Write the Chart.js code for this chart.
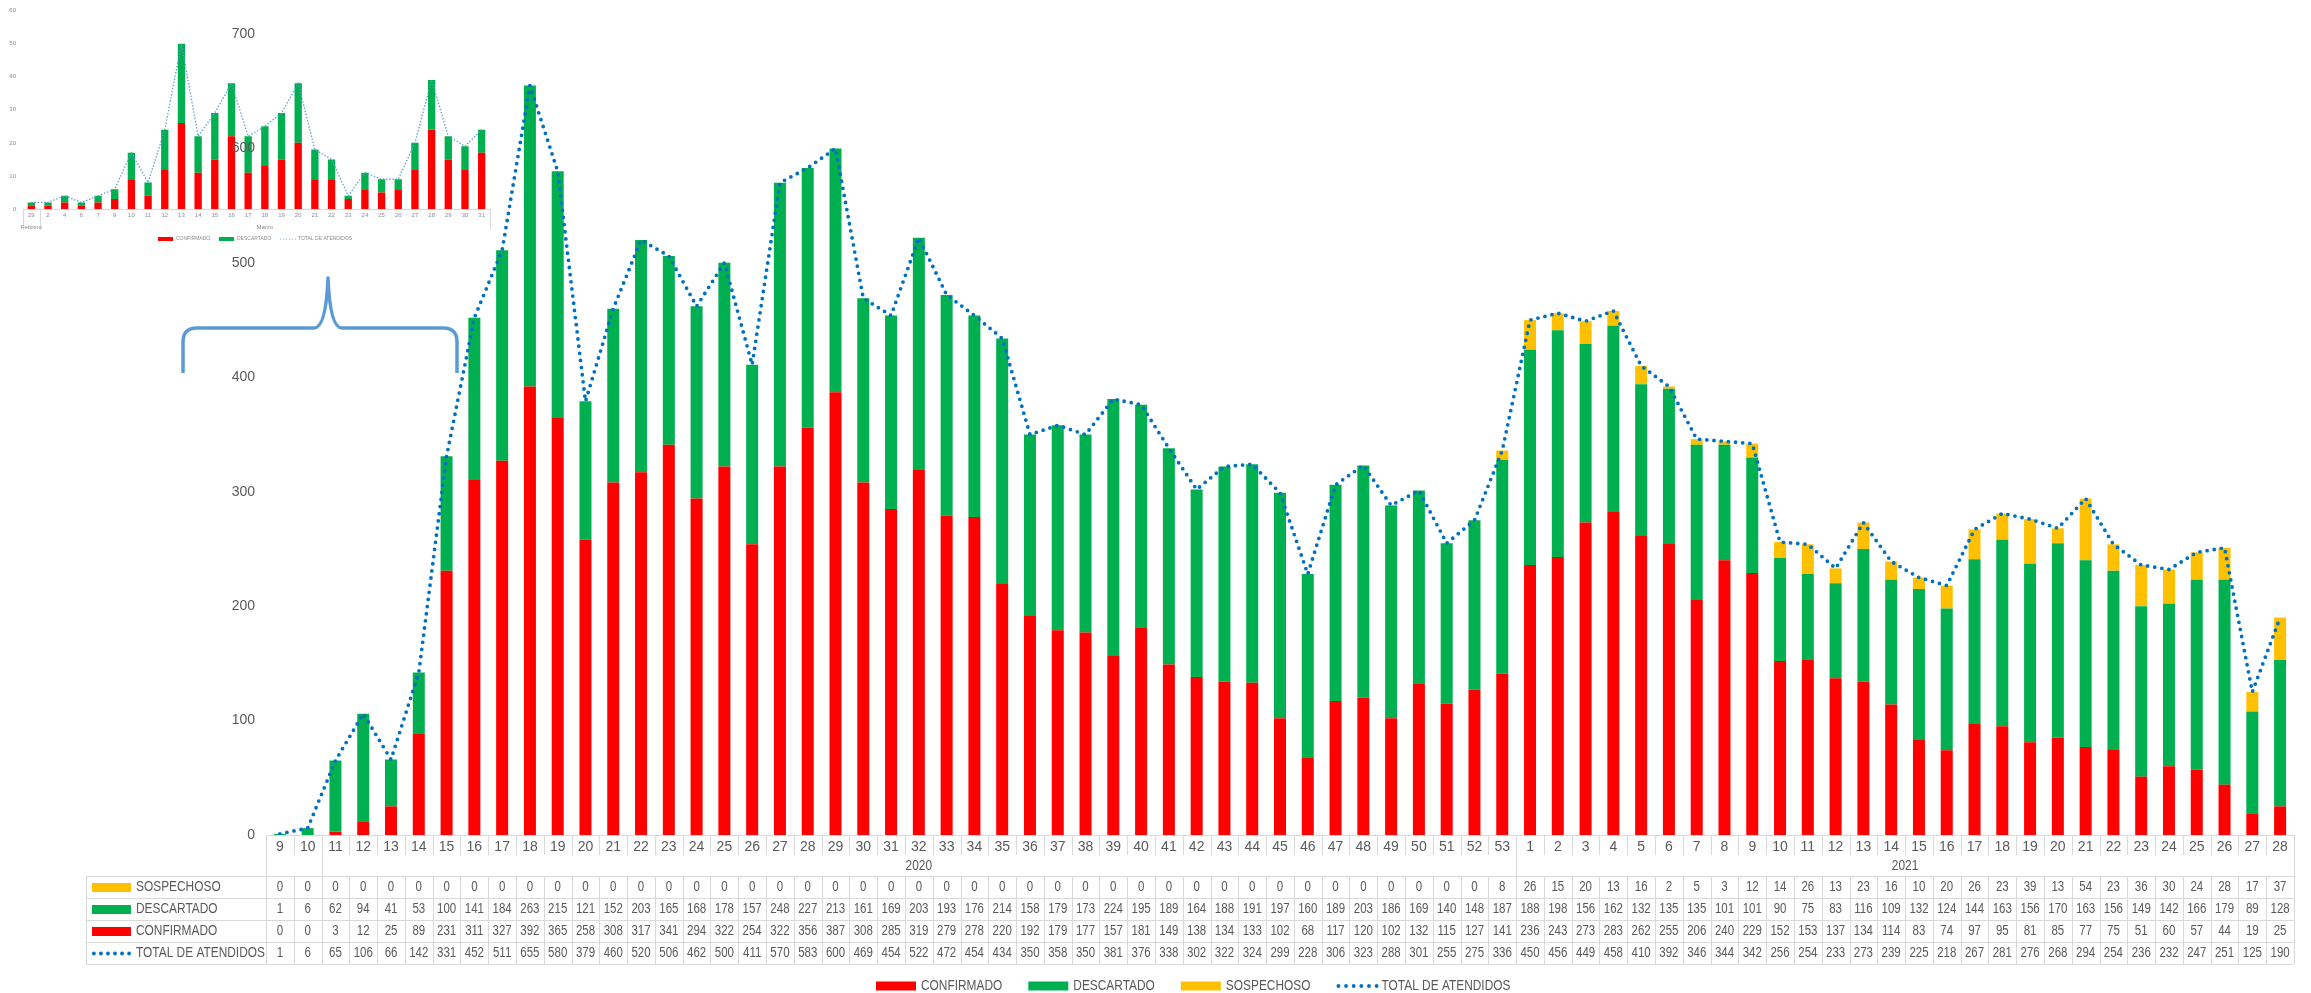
<!DOCTYPE html>
<html><head><meta charset="utf-8">
<script src="https://cdn.jsdelivr.net/npm/chart.js@4.4.1/dist/chart.umd.min.js"></script>
<style>
html,body{margin:0;padding:0;background:#fff;width:2311px;height:993px;overflow:hidden;}
#c2{position:absolute;left:0;top:0;}
#c1{position:absolute;left:0;top:0;}
</style></head><body>
<canvas id="c2" width="495" height="250" style="width:495px;height:250px"></canvas>
<canvas id="c1" width="2311" height="993" style="width:2311px;height:993px"></canvas>
<script>
// ---------- main chart data (epidemiological weeks) ----------
const weeks = ['9','10','11','12','13','14','15','16','17','18','19','20','21','22','23','24','25','26','27','28','29','30','31','32','33','34','35','36','37','38','39','40','41','42','43','44','45','46','47','48','49','50','51','52','53',
  '1','2','3','4','5','6','7','8','9','10','11','12','13','14','15','16','17','18','19','20','21','22','23','24','25','26','27','28'];
const years = [{label:'', from:0, to:2}, {label:'2020', from:2, to:45}, {label:'2021', from:45, to:73}];
const sospechoso = [0,0,0,0,0,0,0,0,0,0,0,0,0,0,0,0,0,0,0,0,0,0,0,0,0,0,0,0,0,0,0,0,0,0,0,0,0,0,0,0,0,0,0,0,8,
  26,15,20,13,16,2,5,3,12,14,26,13,23,16,10,20,26,23,39,13,54,23,36,30,24,28,17,37];
const descartado = [1,6,62,94,41,53,100,141,184,263,215,121,152,203,165,168,178,157,248,227,213,161,169,203,193,176,214,158,179,173,224,195,189,164,188,191,197,160,189,203,186,169,140,148,187,
  188,198,156,162,132,135,135,101,101,90,75,83,116,109,132,124,144,163,156,170,163,156,149,142,166,179,89,128];
const confirmado = [0,0,3,12,25,89,231,311,327,392,365,258,308,317,341,294,322,254,322,356,387,308,285,319,279,278,220,192,179,177,157,181,149,138,134,133,102,68,117,120,102,132,115,127,141,
  236,243,273,283,262,255,206,240,229,152,153,137,134,114,83,74,97,95,81,85,77,75,51,60,57,44,19,25];
const total = [1,6,65,106,66,142,331,452,511,655,580,379,460,520,506,462,500,411,570,583,600,469,454,522,472,454,434,350,358,350,381,376,338,302,322,324,299,228,306,323,288,301,255,275,336,
  450,456,449,458,410,392,346,344,342,256,254,233,273,239,225,218,267,281,276,268,294,254,236,232,247,251,125,190];
const yTicks = [0,100,200,300,400,500,600,700];

// ---------- inset chart data (daily, Feb-Mar) ----------
const insetDays = ['29','2','4','6','7','9','10','11','12','13','14','15','16','17','18','19','20','21','22','23','24','25','26','27','28','29','30','31'];
const insetMonths = [{label:'Febrero', from:0, to:1}, {label:'Marzo', from:1, to:28}];
const insetConf = [1,1,2,1,2,3,9,4,12,26,11,15,22,11,13,15,20,9,9,3,6,5,6,12,24,15,12,17];
const insetDesc = [1,1,2,1,2,3,8,4,12,24,11,14,16,11,12,14,18,9,6,1,5,4,3,8,15,7,7,7];
const insetTotal = [2,2,4,2,4,6,17,8,24,50,22,29,38,22,25,29,38,18,15,4,11,9,9,20,39,22,19,24];

const FONT = "'Liberation Sans', Arial, sans-serif";
const TXT = '#595959';
const GRID = '#D9D9D9';
const C_CONF = '#FF0000', C_DESC = '#00B050', C_SOSP = '#FFC000', C_TOT = '#0070C0';

function txt(ctx, s, x, y, align, size, color, sx) {
  ctx.save();
  ctx.translate(x, y);
  ctx.scale(sx || 0.85, 1);
  ctx.font = size + 'px ' + FONT;
  ctx.fillStyle = color || TXT;
  ctx.textAlign = align;
  ctx.textBaseline = 'middle';
  ctx.fillText(s, 0, 0);
  ctx.restore();
}
function vline(ctx, x, y1, y2) { ctx.beginPath(); ctx.moveTo(Math.round(x)+0.5, y1); ctx.lineTo(Math.round(x)+0.5, y2); ctx.stroke(); }
function hline(ctx, x1, x2, y) { ctx.beginPath(); ctx.moveTo(x1, Math.round(y)+0.5); ctx.lineTo(x2, Math.round(y)+0.5); ctx.stroke(); }
function dots(ctx, x1, x2, y, n, r, color) {
  ctx.fillStyle = color;
  for (let k = 0; k < n; k++) {
    const x = x1 + r + k * (x2 - x1 - 2*r) / (n - 1);
    ctx.beginPath(); ctx.arc(x, y, r, 0, Math.PI*2); ctx.fill();
  }
}

const tablePlugin = {
  id: 'tbl',
  afterDraw(chart) {
    const ctx = chart.ctx, xs = chart.scales.x, ca = chart.chartArea;
    const n = weeks.length;
    const cw = (ca.right - ca.left) / n;
    const bnd = i => (i < n ? xs.getPixelForValue(i) - cw/2 : xs.getPixelForValue(n-1) + cw/2);
    const B = ca.bottom, R = bnd(n), TL = 86;
    const yWeek = B + 20, yYear = B + 41;
    const rowH = 22;
    ctx.save();
    ctx.strokeStyle = GRID; ctx.lineWidth = 1;
    // week row separators
    for (let i = 0; i <= n; i++) vline(ctx, bnd(i), B, yWeek);
    // year row separators
    years.forEach(g => { vline(ctx, bnd(g.from), yWeek, yYear); vline(ctx, bnd(g.to), yWeek, yYear); });
    // data rows
    for (let r = 0; r <= 4; r++) hline(ctx, TL, R, yYear + r*rowH);
    vline(ctx, TL, yYear, yYear + 4*rowH);
    for (let i = 0; i <= n; i++) vline(ctx, bnd(i), yYear, yYear + 4*rowH);
    // year labels
    years.forEach(g => { if (g.label) txt(ctx, g.label, (bnd(g.from) + bnd(g.to)) / 2, (yWeek + yYear)/2 + 1, 'center', 14, TXT); });
    const rows = [
      {label:'SOSPECHOSO', data:sospechoso, color:C_SOSP, key:'rect'},
      {label:'DESCARTADO', data:descartado, color:C_DESC, key:'rect'},
      {label:'CONFIRMADO', data:confirmado, color:C_CONF, key:'rect'},
      {label:'TOTAL DE ATENDIDOS', data:total, color:C_TOT, key:'dots'}
    ];
    rows.forEach((row, r) => {
      const yc = yYear + r*rowH + rowH/2 + 0.5;
      if (row.key === 'rect') { ctx.fillStyle = row.color; ctx.fillRect(92, yc - 4.5, 39, 9); }
      else dots(ctx, 92, 131, yc, 6, 1.9, row.color);
      txt(ctx, row.label, 136, yc, 'left', 14, TXT);
      row.data.forEach((v, i) => txt(ctx, String(v), xs.getPixelForValue(i), yc, 'center', 14, TXT, 0.82));
    });
    // bottom legend
    const items = [
      {label:'CONFIRMADO', color:C_CONF, key:'rect'},
      {label:'DESCARTADO', color:C_DESC, key:'rect'},
      {label:'SOSPECHOSO', color:C_SOSP, key:'rect'},
      {label:'TOTAL DE ATENDIDOS', color:C_TOT, key:'dots'}
    ];
    let lx = 876; const ly = 986;
    ctx.font = '14px ' + FONT;
    items.forEach(it => {
      if (it.key === 'rect') { ctx.fillStyle = it.color; ctx.fillRect(lx, ly - 4.5, 40, 9); }
      else dots(ctx, lx, lx + 42, ly, 6, 1.9, it.color);
      txt(ctx, it.label, lx + 45, ly, 'left', 14, TXT);
      lx += 45 + ctx.measureText(it.label).width * 0.85 + 26;
    });
    // bracket annotation
    ctx.strokeStyle = '#5B9BD5'; ctx.lineWidth = 3.5; ctx.lineCap = 'butt'; ctx.lineJoin = 'round';
    ctx.beginPath();
    ctx.moveTo(183, 373); ctx.lineTo(183, 342);
    ctx.quadraticCurveTo(183, 328, 197, 328);
    ctx.lineTo(314, 328);
    ctx.quadraticCurveTo(326, 328, 328, 278);
    ctx.quadraticCurveTo(330, 328, 342, 328);
    ctx.lineTo(443, 328);
    ctx.quadraticCurveTo(457, 328, 457, 342);
    ctx.lineTo(457, 373);
    ctx.stroke();
    ctx.restore();
  }
};

new Chart(document.getElementById('c1'), {
  data: {
    labels: weeks,
    datasets: [
      {type:'bar', label:'CONFIRMADO', data:confirmado, backgroundColor:C_CONF, stack:'s', categoryPercentage:0.8, barPercentage:0.54, order:1},
      {type:'bar', label:'DESCARTADO', data:descartado, backgroundColor:C_DESC, stack:'s', categoryPercentage:0.8, barPercentage:0.54, order:1},
      {type:'bar', label:'SOSPECHOSO', data:sospechoso, backgroundColor:C_SOSP, stack:'s', categoryPercentage:0.8, barPercentage:0.54, order:1},
      {type:'line', label:'TOTAL DE ATENDIDOS', data:total, borderColor:C_TOT, backgroundColor:C_TOT, borderWidth:3.8, borderDash:[0,7.2], borderCapStyle:'round', pointRadius:0, fill:false, tension:0, stack:'t', order:0}
    ]
  },
  options: {
    responsive:false, animation:false, devicePixelRatio:1,
    layout:{padding:{left:0, right:17, top:34, bottom:0}},
    plugins:{legend:{display:false}, tooltip:{enabled:false}},
    scales:{
      x:{stacked:true, grid:{display:false, drawTicks:false}, border:{display:true, color:GRID},
         ticks:{font:{family:FONT, size:14}, color:TXT, padding:4, maxRotation:0, autoSkip:false},
         afterFit:s => { s.height = 158; }},
      y:{stacked:true, min:0, max:700, grid:{display:false, drawTicks:false}, border:{display:false},
         afterBuildTicks:s => { s.ticks = yTicks.map(v => ({value:v})); },
         ticks:{font:{family:FONT, size:14}, color:TXT, padding:11},
         afterFit:s => { s.width = 266; }}
    }
  },
  plugins:[tablePlugin]
});

// ---------- inset ----------
const insetPlugin = {
  id:'insetTbl',
  afterDraw(chart) {
    const ctx = chart.ctx, xs = chart.scales.x, ca = chart.chartArea;
    const n = insetDays.length, cw = (ca.right - ca.left)/n;
    const bnd = i => ca.left + i*cw;
    ctx.save();
    ctx.strokeStyle = GRID; ctx.lineWidth = 1;
    insetMonths.forEach(m => { vline(ctx, bnd(m.from), ca.bottom, ca.bottom + 21); vline(ctx, bnd(m.to), ca.bottom, ca.bottom + 21); });
    insetMonths.forEach(m => txt(ctx, m.label, (bnd(m.from)+bnd(m.to))/2, ca.bottom + 18, 'center', 6, '#8C8C8C', 1));
    const items = [
      {label:'CONFIRMADO', color:'#FF0000', key:'rect', x:158},
      {label:'DESCARTADO', color:'#00B050', key:'rect', x:219},
      {label:'TOTAL DE ATENDIDOS', color:'#5B9BD5', key:'dots', x:280}
    ];
    const ly = 239;
    items.forEach(it => {
      if (it.key === 'rect') { ctx.fillStyle = it.color; ctx.fillRect(it.x, ly - 2, 15, 4); }
      else dots(ctx, it.x, it.x + 16, ly, 6, 0.6, it.color);
      txt(ctx, it.label, it.x + 18, ly, 'left', 5, '#8C8C8C', 1);
    });
    ctx.restore();
  }
};

new Chart(document.getElementById('c2'), {
  data: {
    labels: insetDays,
    datasets: [
      {type:'bar', label:'CONFIRMADO', data:insetConf, backgroundColor:'#FF0000', stack:'s', categoryPercentage:0.8, barPercentage:0.55, order:1},
      {type:'bar', label:'DESCARTADO', data:insetDesc, backgroundColor:'#00B050', stack:'s', categoryPercentage:0.8, barPercentage:0.55, order:1},
      {type:'line', label:'TOTAL DE ATENDIDOS', data:insetTotal, borderColor:'#5B9BD5', borderWidth:1.3, borderDash:[1.4,1.8], pointRadius:0, fill:false, tension:0, stack:'t', order:0}
    ]
  },
  options: {
    responsive:false, animation:false, devicePixelRatio:1,
    layout:{padding:{left:0, right:5, top:7, bottom:0}},
    plugins:{legend:{display:false}, tooltip:{enabled:false}},
    scales:{
      x:{stacked:true, grid:{display:false, drawTicks:false}, border:{display:true, color:GRID},
         ticks:{font:{family:FONT, size:6}, color:'#8C8C8C', padding:3, maxRotation:0, autoSkip:false},
         afterFit:s => { s.height = 41; }},
      y:{stacked:true, min:0, max:60, grid:{display:false, drawTicks:false}, border:{display:false},
         ticks:{stepSize:10, font:{family:FONT, size:6}, color:'#8C8C8C', padding:7},
         afterFit:s => { s.width = 23; }}
    }
  },
  plugins:[insetPlugin]
});
</script>
</body></html>
